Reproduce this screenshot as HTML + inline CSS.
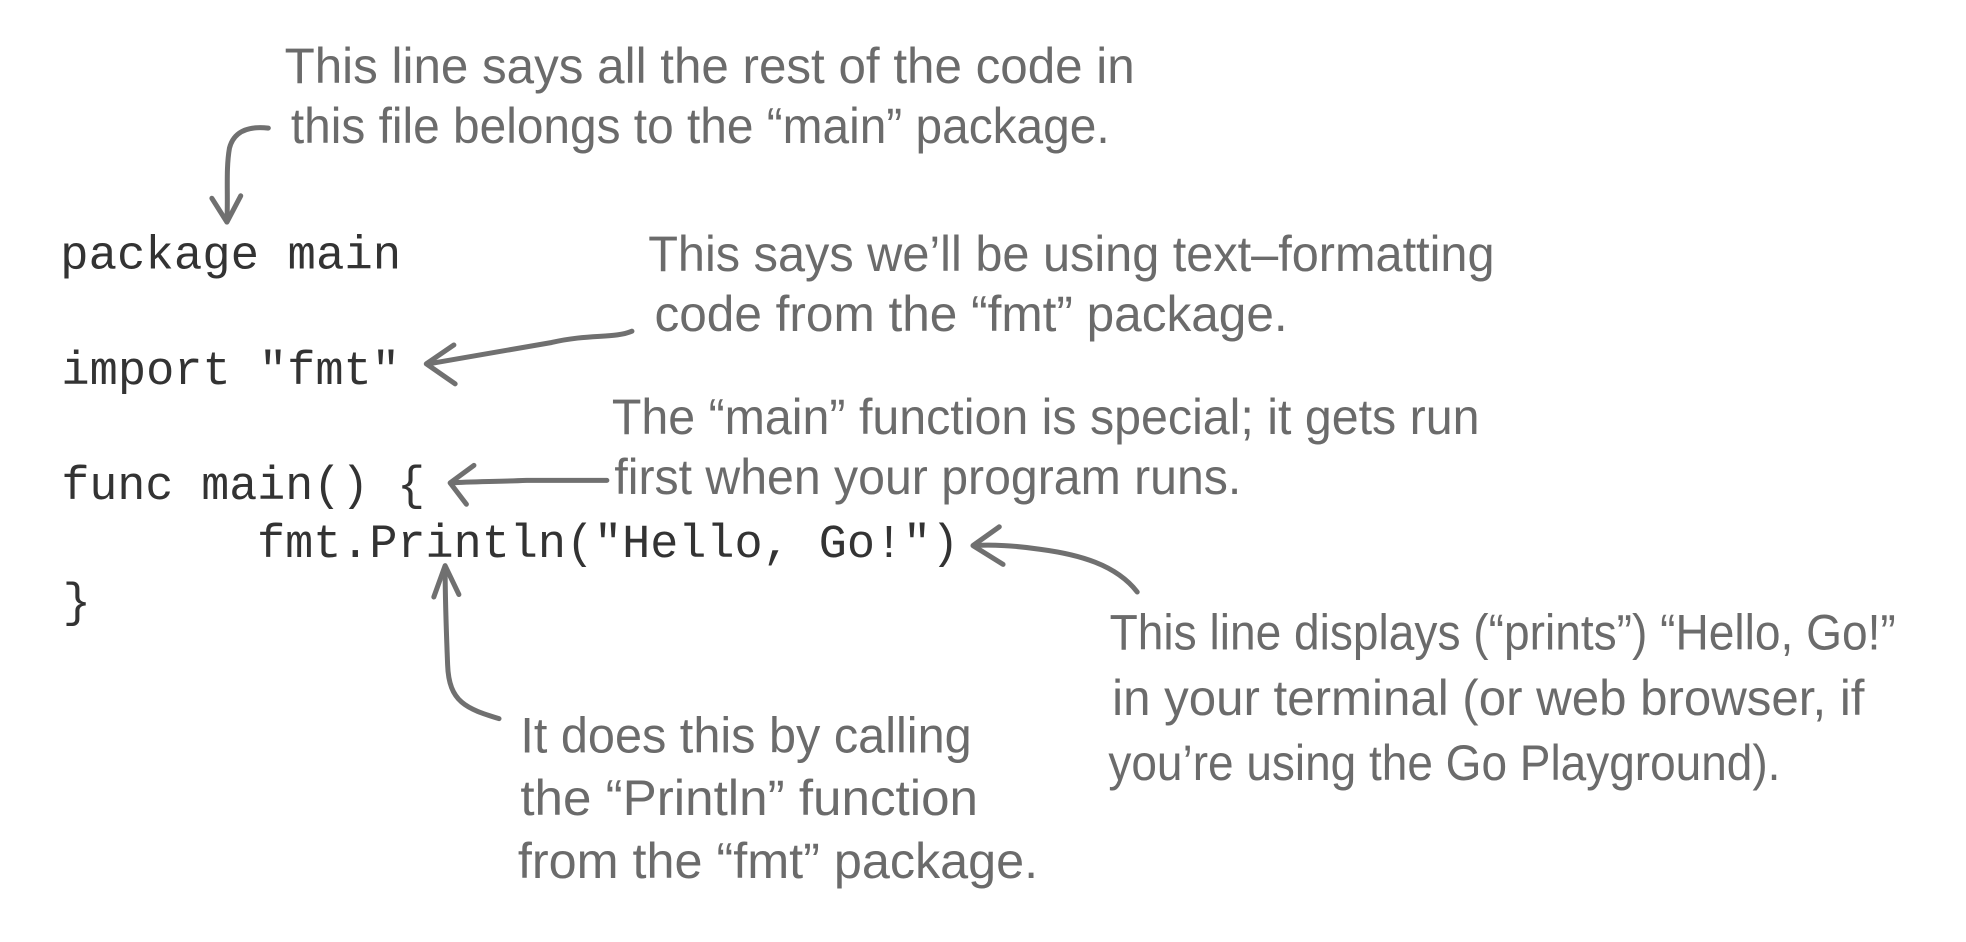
<!DOCTYPE html>
<html><head><meta charset="utf-8"><style>
html,body{margin:0;padding:0;background:#fff;}
svg{display:block;}
.c{font-family:"Liberation Mono",monospace;font-size:37.7px;fill:#333;}
.h{font-family:"Liberation Sans",sans-serif;font-size:40px;fill:#6b6b6b;}
.a{fill:none;stroke:#707070;stroke-width:4;stroke-linecap:round;stroke-linejoin:round;}
</style></head><body>
<svg width="1966" height="942" viewBox="0 0 1568 751" xmlns="http://www.w3.org/2000/svg">
<rect width="1568" height="751" fill="#fff"/>
<text class="c" x="48" y="214" textLength="272" lengthAdjust="spacingAndGlyphs">package main</text>
<text class="c" x="49" y="306" textLength="270" lengthAdjust="spacingAndGlyphs">import "fmt"</text>
<text class="c" x="49" y="398" textLength="290" lengthAdjust="spacingAndGlyphs">func main() {</text>
<text class="c" x="205" y="444" textLength="560" lengthAdjust="spacingAndGlyphs">fmt.Println("Hello, Go!")</text>
<text class="c" x="50" y="491">}</text>

<text class="h" x="227" y="66" textLength="678" lengthAdjust="spacingAndGlyphs">This line says all the rest of the code in</text>
<text class="h" x="232" y="114" textLength="653" lengthAdjust="spacingAndGlyphs">this file belongs to the “main” package.</text>
<text class="h" x="517" y="216" textLength="675" lengthAdjust="spacingAndGlyphs">This says we’ll be using text–formatting</text>
<text class="h" x="522" y="264" textLength="505" lengthAdjust="spacingAndGlyphs">code from the “fmt” package.</text>
<text class="h" x="488" y="346" textLength="692" lengthAdjust="spacingAndGlyphs">The “main” function is special; it gets run</text>
<text class="h" x="490" y="394" textLength="500" lengthAdjust="spacingAndGlyphs">first when your program runs.</text>
<text class="h" x="885" y="518" textLength="627" lengthAdjust="spacingAndGlyphs">This line displays (“prints”) “Hello, Go!”</text>
<text class="h" x="887" y="570" textLength="600" lengthAdjust="spacingAndGlyphs">in your terminal (or web browser, if</text>
<text class="h" x="884" y="622" textLength="536" lengthAdjust="spacingAndGlyphs">you’re using the Go Playground).</text>
<text class="h" x="415" y="600" textLength="360" lengthAdjust="spacingAndGlyphs">It does this by calling</text>
<text class="h" x="415" y="650" textLength="365" lengthAdjust="spacingAndGlyphs">the “Println” function</text>
<text class="h" x="413" y="700" textLength="415" lengthAdjust="spacingAndGlyphs">from the “fmt” package.</text>

<path class="a" d="M214,102 C196,100 186,106 183,118 C180,135 182,155 181,176"/>
<path class="a" d="M169,158 L181,177 L192,156"/>
<path class="a" d="M504,264 C490,270 470,266 440,273 C400,280 370,285 342,290"/>
<path class="a" d="M362,275 L340,290 L363,306"/>
<path class="a" d="M484,383 L420,383 C395,384 375,384 360,385"/>
<path class="a" d="M378,371 L359,385 L372,402"/>
<path class="a" d="M907,472 C890,450 860,442 830,438 C810,435 790,434 777,435"/>
<path class="a" d="M797,420 L776,435 L800,450"/>
<path class="a" d="M398,573 C372,565 358,560 357,530 C356,505 355,480 355,452"/>
<path class="a" d="M346,476 L355,451 L366,474"/>
</svg>
</body></html>
